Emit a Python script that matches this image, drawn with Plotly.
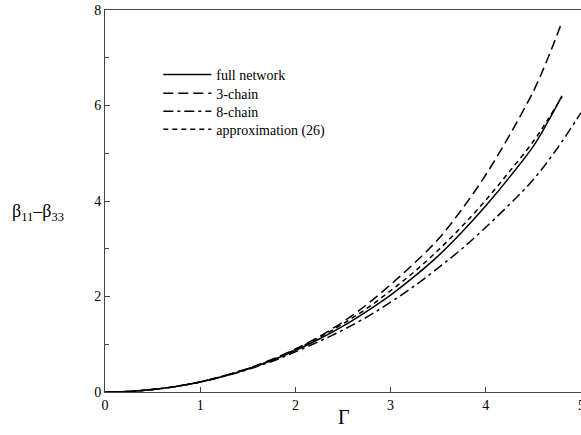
import plotly.graph_objects as go

# Stretch Gamma and the resulting stress difference beta_11 - beta_33
gamma = [0.0, 0.25, 0.5, 0.75, 1.0, 1.25, 1.5, 1.75, 2.0, 2.25, 2.5, 2.75,
         3.0, 3.25, 3.5, 3.75, 4.0, 4.25, 4.5, 4.65, 4.8]
gamma_8 = gamma[:-2] + [4.75, 5.0]

full_network = [0.0, 0.013, 0.052, 0.118, 0.21, 0.33, 0.48, 0.66, 0.87, 1.11,
                1.38, 1.69, 2.03, 2.42, 2.85, 3.35, 3.90, 4.50, 5.15, 5.65, 6.20]
three_chain = [0.0, 0.013, 0.052, 0.118, 0.21, 0.34, 0.49, 0.68, 0.90, 1.16,
               1.47, 1.83, 2.25, 2.70, 3.20, 3.83, 4.55, 5.38, 6.30, 6.98, 7.75]
eight_chain = [0.0, 0.013, 0.052, 0.117, 0.21, 0.33, 0.47, 0.64, 0.84, 1.06,
               1.30, 1.57, 1.88, 2.22, 2.60, 3.00, 3.45, 3.93, 4.45, 5.10, 5.85]
approx_26 = [0.0, 0.013, 0.052, 0.119, 0.21, 0.34, 0.49, 0.67, 0.89, 1.14,
             1.43, 1.75, 2.12, 2.52, 2.97, 3.47, 4.02, 4.62, 5.25, 5.70, 6.18]

x_ticks = [0, 1, 2, 3, 4]
y_ticks = [0, 2, 4, 6, 8]
y_minor = [1, 3, 5, 7]

series = [
    ("full network", gamma, full_network, "solid"),
    ("3-chain", gamma, three_chain, "10px,5px"),
    ("8-chain", gamma_8, eight_chain, "10px,4px,3px,4px"),
    ("approximation (26)", gamma, approx_26, "5px,4px"),
]

serif = "Liberation Serif"

# one small legend per entry, stacked with tight row spacing
legend_names = ["legend", "legend2", "legend3", "legend4"]
legend_rows = [0.830, 0.781, 0.734, 0.687]

fig = go.Figure()
for (name, xs, ys, dash), lg in zip(series, legend_names):
    fig.add_trace(go.Scatter(
        x=xs, y=ys, name=name, mode="lines", legend=lg,
        line=dict(color="black", width=1.5, dash=dash, shape="spline"),
    ))

legend_style = dict(
    x=0.112, xanchor="left", yanchor="middle",
    bgcolor="rgba(0,0,0,0)", borderwidth=0,
    font=dict(family=serif, size=14, color="black"),
    itemwidth=48,
)

fig.update_layout(
    width=581, height=435,
    margin=dict(l=105, r=0, t=10, b=43),
    paper_bgcolor="white", plot_bgcolor="white",
    font=dict(family=serif, size=14, color="black"),
    showlegend=True,
    xaxis=dict(
        range=[0, 5], tickmode="array", tickvals=x_ticks,
        ticks="inside", ticklen=5, tickcolor="#444", showgrid=False,
        zeroline=False, showline=True, linecolor="#444", linewidth=1,
        mirror=True, tickfont=dict(family=serif, size=14),
    ),
    yaxis=dict(
        range=[0, 8], tickmode="array", tickvals=y_ticks,
        ticks="inside", ticklen=5, tickcolor="#444", showgrid=False,
        zeroline=False, showline=True, linecolor="#444", linewidth=1,
        mirror=False, tickfont=dict(family=serif, size=14),
        minor=dict(tickvals=y_minor, ticks="inside", ticklen=4,
                   tickcolor="#444", showgrid=False),
    ),
    annotations=[
        # last x tick label sits on the right edge of the figure
        dict(text="5", xref="x", yref="paper", x=5, y=0, yshift=-4,
             xanchor="center", yanchor="top", showarrow=False,
             font=dict(family=serif, size=14)),
        dict(text="β<sub>11</sub>–β<sub>33</sub>", xref="paper", yref="paper",
             x=-0.2, y=0.47, xanchor="left", yanchor="middle",
             showarrow=False, font=dict(family=serif, size=18)),
        dict(text="Γ", xref="paper", yref="paper",
             x=0.502, y=-0.066, xanchor="center", yanchor="middle",
             showarrow=False, font=dict(family=serif, size=20)),
    ],
)
for lg, row in zip(legend_names, legend_rows):
    fig.update_layout({lg: dict(legend_style, y=row)})

fig.write_html("out.html")
